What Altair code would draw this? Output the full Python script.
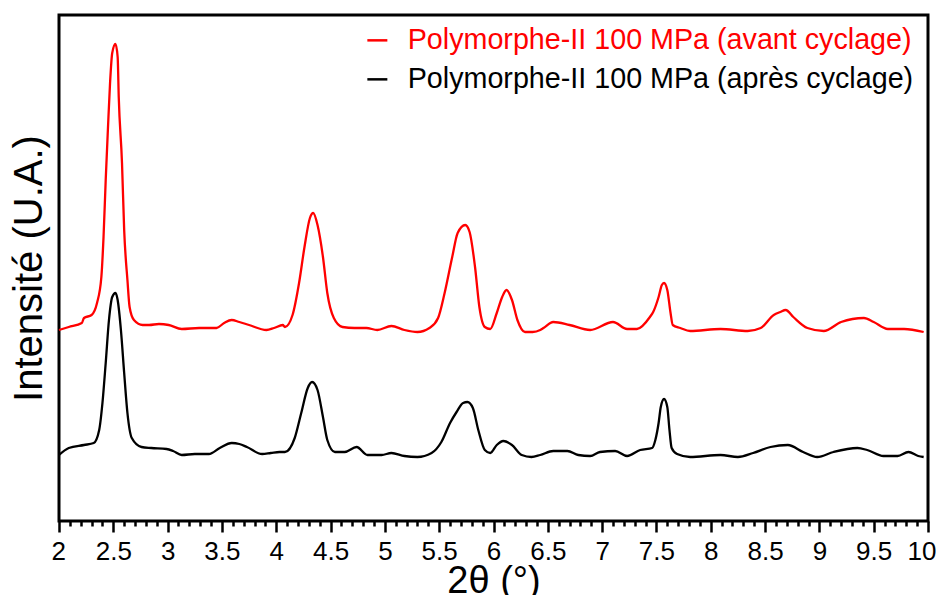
import altair as alt
import pandas as pd

# Series labels
label_avant = "Polymorphe-II 100 MPa (avant cyclage)"
label_apres = "Polymorphe-II 100 MPa (après cyclage)"

# Red curve (avant cyclage): 2theta (deg) and intensity (a.u.)
avant_x = [2.00, 2.09, 2.21, 2.23, 2.30, 2.35, 2.39, 2.41, 2.43, 2.45, 2.47, 2.49, 2.52, 2.54,
           2.55, 2.58, 2.60, 2.63, 2.65, 2.69, 2.77, 2.83, 2.92, 3.01, 3.13, 3.29, 3.45, 3.52,
           3.59, 3.66, 3.75, 3.91, 3.98, 4.06, 4.08, 4.15, 4.21, 4.26, 4.31, 4.34, 4.38, 4.43,
           4.47, 4.53, 4.61, 4.72, 4.83, 4.93, 5.06, 5.18, 5.30, 5.41, 5.49, 5.55, 5.62, 5.67,
           5.74, 5.78, 5.83, 5.87, 5.92, 5.97, 6.03, 6.08, 6.12, 6.17, 6.22, 6.29, 6.36, 6.43,
           6.46, 6.55, 6.70, 6.89, 7.10, 7.23, 7.32, 7.44, 7.47, 7.52, 7.55, 7.57, 7.60, 7.63,
           7.65, 7.72, 7.81, 8.09, 8.34, 8.46, 8.58, 8.64, 8.69, 8.76, 8.89, 9.04, 9.20, 9.41,
           9.50, 9.63, 9.78, 9.96]
avant_y = [191, 194, 198, 203, 206, 218, 244, 284, 341, 391, 438, 468, 477, 464,
           424, 358, 291, 241, 214, 201, 196, 196, 197, 196, 192, 193, 193, 198,
           201, 199, 196, 191, 193, 196, 194, 206, 238, 274, 303, 308, 296, 264,
           228, 203, 194, 193, 193, 191, 195, 191, 189, 193, 203, 228, 264, 288,
           296, 289, 254, 214, 194, 192, 208, 224, 231, 221, 201, 189, 189, 191,
           193, 199, 196, 191, 199, 192, 192, 204, 209, 224, 236, 238, 231, 208,
           196, 193, 190, 192, 190, 193, 206, 209, 211, 204, 193, 190, 199, 203,
           199, 192, 192, 189]

# Black curve (après cyclage)
apres_x = [2.00, 2.09, 2.23, 2.32, 2.37, 2.40, 2.43, 2.46, 2.49, 2.52, 2.54, 2.57, 2.60, 2.63,
           2.67, 2.76, 2.85, 2.99, 3.05, 3.13, 3.25, 3.38, 3.48, 3.59, 3.66, 3.73, 3.87, 3.95,
           4.03, 4.08, 4.17, 4.23, 4.29, 4.33, 4.38, 4.43, 4.47, 4.54, 4.63, 4.74, 4.84, 4.97,
           5.06, 5.18, 5.30, 5.43, 5.52, 5.60, 5.66, 5.72, 5.76, 5.81, 5.86, 5.92, 5.97, 6.03,
           6.09, 6.17, 6.26, 6.35, 6.43, 6.55, 6.68, 6.78, 6.89, 6.98, 7.12, 7.23, 7.35, 7.46,
           7.49, 7.52, 7.54, 7.57, 7.60, 7.62, 7.64, 7.69, 7.81, 8.09, 8.25, 8.39, 8.55, 8.71,
           8.85, 8.98, 9.13, 9.35, 9.44, 9.59, 9.72, 9.82, 9.91, 9.96]
apres_y = [66, 73, 76, 78, 91, 118, 158, 201, 224, 228, 221, 191, 148, 108,
           83, 74, 73, 72, 70, 66, 67, 67, 73, 78, 77, 74, 67, 68,
           69, 69, 83, 108, 133, 139, 131, 104, 81, 69, 69, 74, 66, 66,
           68, 65, 64, 68, 79, 98, 109, 118, 119, 113, 91, 71, 68, 76,
           80, 76, 66, 64, 66, 70, 70, 66, 65, 69, 70, 65, 71, 73,
           81, 98, 114, 122, 114, 91, 73, 67, 64, 66, 64, 68, 74, 76,
           69, 64, 69, 73, 71, 65, 65, 69, 65, 64]

df = pd.concat([
    pd.DataFrame({"x": avant_x, "y": avant_y, "serie": label_avant, "o": range(len(avant_x))}),
    pd.DataFrame({"x": apres_x, "y": apres_y, "serie": label_apres, "o": range(len(apres_x))}),
])

tick_values = [round(2 + i * 0.1, 1) for i in range(81)]
is_major = "abs(datum.value*2 - round(datum.value*2)) < 0.001"

chart = alt.Chart(df).mark_line(strokeWidth=2.3, interpolate="monotone").encode(
    x=alt.X("x:Q",
            scale=alt.Scale(domain=[2, 10], nice=False, zero=False),
            axis=alt.Axis(title="2θ (°)", values=tick_values, grid=False, domain=False,
                          tickColor="black", tickWidth=2.5,
                          tickSize={"condition": {"test": is_major, "value": 11}, "value": 5},
                          labelExpr=is_major + " ? '' + datum.value : ''",
                          labelOverlap=False, labelFlush=True, labelFlushOffset=8,
                          labelFont="Liberation Sans", labelFontSize=26, labelColor="black",
                          labelPadding=6,
                          titleFont="Liberation Sans", titleFontSize=38, titleFontWeight="normal",
                          titleColor="black", titlePadding=-2)),
    y=alt.Y("y:Q",
            scale=alt.Scale(domain=[0, 506], nice=False),
            axis=alt.Axis(title="Intensité (U.A.)", labels=False, ticks=False, grid=False,
                          domain=False,
                          titleFont="Liberation Sans", titleFontSize=40, titleFontWeight="normal",
                          titleColor="black", titlePadding=10)),
    color=alt.Color("serie:N",
                    scale=alt.Scale(domain=[label_avant, label_apres], range=["#ff0000", "#000000"]),
                    legend=alt.Legend(title=None, orient="none", legendX=304, legendY=11,
                                      padding=0, symbolType="stroke", symbolSize=400,
                                      symbolStrokeWidth=2.5, labelOffset=16, rowPadding=9,
                                      labelFont="Liberation Sans", labelFontSize=28.7,
                                      labelLimit=0,
                                      labelColor={"expr": "datum.value === '" + label_avant + "' ? '#ff0000' : '#000000'"})),
    order="o:Q",
).properties(
    width=869, height=506,
    autosize=alt.AutoSizeParams(type="none"),
    padding={"left": 51, "top": 7, "right": 8, "bottom": 74},
).configure_view(stroke="black", strokeWidth=3)

chart.save("out.html", embed_options={"renderer": "svg", "actions": False})
